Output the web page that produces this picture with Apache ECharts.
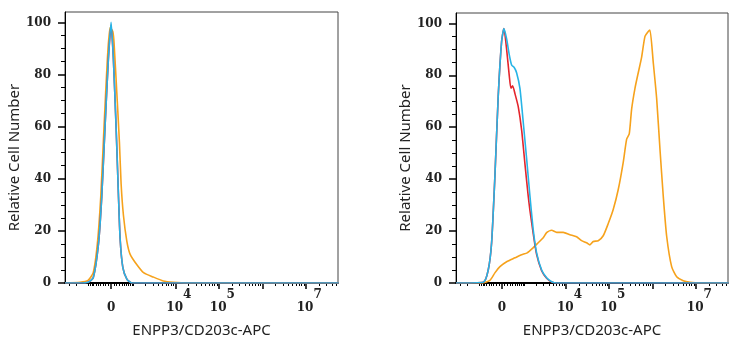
<!DOCTYPE html>
<html>
<head>
<meta charset="utf-8">
<script src="https://cdn.jsdelivr.net/npm/echarts@6/dist/echarts.min.js"></script>
</head>
<body style="margin: 0; background: #fff">
<div id="container" style="width: 738px; height: 350px;"></div>
<script type="text/javascript">
// histogram curves, x in display units (biexponential decades), y in % of max
var leftOrange = [[-1.06, 0], [-0.716, 0.3], [-0.53, 1], [-0.41, 4], [-0.316, 15], [-0.238, 33], [-0.162, 60],
    [-0.085, 86], [-0.023, 98], [0.039, 96.5], [0.069, 92], [0.132, 73], [0.192, 54], [0.231, 38], [0.284, 26],
    [0.363, 16], [0.439, 11], [0.594, 7], [0.746, 4], [0.97, 2.3], [1.2, 0.8], [1.43, 0.3], [1.755, 0], [5.24, 0]];
var leftRed = [[-1.06, 0], [-0.716, 0], [-0.53, 0.3], [-0.41, 2], [-0.29, 15], [-0.215, 33], [-0.139, 60],
    [-0.062, 86], [0, 99], [0.053, 86], [0.115, 60], [0.169, 34], [0.208, 17], [0.27, 6], [0.363, 1.5],
    [0.478, 0], [5.24, 0]];
var leftBlue = [[-1.06, 0], [-0.716, 0], [-0.53, 0.3], [-0.41, 2], [-0.29, 15], [-0.215, 33], [-0.139, 60],
    [-0.062, 86], [0, 100], [0.053, 86], [0.115, 60], [0.169, 34], [0.208, 17], [0.27, 6], [0.363, 1.5],
    [0.478, 0], [5.24, 0]];

var rightOrange = [[-1.06, 0], [-0.45, 0], [-0.277, 1], [-0.162, 3.9], [-0.046, 6.3], [0.109, 8.2], [0.3, 9.7],
    [0.455, 10.9], [0.584, 11.6], [0.723, 13.6], [0.838, 15.5], [0.954, 17.4], [1.032, 19.4], [1.148, 20.3],
    [1.263, 19.5], [1.416, 19.5], [1.57, 18.6], [1.725, 17.8], [1.84, 16.3], [1.956, 15.5], [2.032, 14.7],
    [2.109, 16], [2.224, 16.3], [2.339, 18.2], [2.455, 22.9], [2.57, 28.3], [2.686, 36], [2.801, 46.5],
    [2.88, 55.4], [2.94, 57.4], [2.995, 67], [3.072, 75], [3.148, 81], [3.226, 87], [3.303, 95], [3.379, 96.9],
    [3.418, 97.4], [3.494, 85], [3.573, 71], [3.649, 51.6], [3.725, 33.5], [3.804, 18], [3.919, 6.3],
    [4.035, 2.4], [4.187, 0.9], [4.342, 0.3], [4.57, 0], [5.24, 0]];
var rightRed = [[-1.06, 0], [-0.43, 0.3], [-0.316, 5], [-0.238, 15.5], [-0.162, 41], [-0.085, 72], [-0.007, 93],
    [0.046, 98], [0.109, 90], [0.169, 80], [0.208, 75], [0.247, 76], [0.3, 73], [0.376, 68], [0.455, 59],
    [0.531, 46], [0.607, 33.5], [0.647, 28], [0.723, 19], [0.801, 11], [0.917, 4.7], [1.032, 1.8],
    [1.148, 0.4], [1.263, 0], [5.24, 0]];
var rightBlue = [[-1.06, 0], [-0.43, 0.3], [-0.316, 5], [-0.238, 15.5], [-0.162, 41], [-0.085, 72], [-0.007, 93],
    [0.046, 98], [0.109, 94], [0.169, 88], [0.224, 84], [0.284, 83], [0.339, 81], [0.416, 75], [0.492, 62],
    [0.57, 48], [0.647, 33.5], [0.723, 20.5], [0.801, 11.6], [0.917, 5], [1.032, 2], [1.148, 0.5],
    [1.263, 0], [5.24, 0]];

// axis ticks (raw fluorescence values)
var majorTickRaw = [0, 1e4, 1e5, 1e6, 1e7];
var majorTickText = ['0', '10^4', '10^5', '', '10^7'];
var minorTickRaw = [-3000, -2000, -1000, -900, -800, -700, -600, -500, -400, -300, -200, -100,
    100, 200, 300, 400, 500, 600, 700, 800, 900, 1000, 2000, 3000, 4000, 5000, 6000, 7000, 8000, 9000,
    2e4, 3e4, 4e4, 5e4, 6e4, 7e4, 8e4, 9e4, 2e5, 3e5, 4e5, 5e5, 6e5, 7e5, 8e5, 9e5,
    2e6, 3e6, 4e6, 5e6, 6e6, 7e6, 8e6, 9e6, 2e7, 3e7, 4e7, 5e7];
var yMajor = [0, 20, 40, 60, 80, 100];
var yMinor = [5, 10, 15, 25, 30, 35, 45, 50, 55, 65, 70, 75, 85, 90, 95];

var xTitle = 'ENPP3/CD203c-APC';
var yTitle = 'Relative Cell Number';

var biexWidth = 665;
function biex(v) {
    return Math.asinh(v / biexWidth) / Math.LN10;
}
var majorU = majorTickRaw.map(biex);
var minorU = minorTickRaw.map(biex);
var xMin = -1.06, xMax = 5.22;

function tickLabel(val) {
    for (var i = 0; i < majorU.length; i++) {
        if (Math.abs(majorU[i] - val) < 1e-6) {
            var t = majorTickText[i];
            if (t === '') return '';
            if (t.indexOf('^') > 0) {
                var p = t.split('^');
                return '{m|' + p[0] + '}{s|' + p[1] + '}';
            }
            return '{z|' + t + '}';
        }
    }
    return '';
}

var serif = 'DejaVu Serif';
var sans = 'Noto Sans';

var grids = [
    {left: 65, top: 12, width: 273, height: 271},
    {left: 456, top: 13, width: 272, height: 270}
];

var xAxes = [], yAxes = [];
grids.forEach(function (g, i) {
    g.show = true;
    g.borderColor = '#444';
    g.borderWidth = 1;
    xAxes.push({
        type: 'value', gridIndex: i, min: xMin, max: xMax, position: 'bottom',
        name: xTitle, nameLocation: 'middle', nameGap: 40,
        nameTextStyle: {fontFamily: sans, fontSize: 15, color: '#222'},
        axisLine: {show: true, onZero: false, lineStyle: {color: '#000', width: 2}},
        axisTick: {show: true, customValues: majorU, length: 6, lineStyle: {color: '#000', width: 1.5}},
        axisLabel: {
            show: true, customValues: majorU, margin: 6, formatter: tickLabel,
            rich: {
                z: {fontFamily: serif, fontWeight: 'bold', fontSize: 12, color: '#222', padding: [13, 0, 0, 0]},
                m: {fontFamily: serif, fontWeight: 'bold', fontSize: 12, color: '#222', padding: [13, 0, 0, 7]},
                s: {fontFamily: serif, fontWeight: 'bold', fontSize: 12, color: '#222', padding: [0, 0, 13, 0]}
            }
        },
        splitLine: {show: false}
    });
    xAxes.push({
        type: 'value', gridIndex: i, min: xMin, max: xMax, position: 'bottom',
        axisLine: {show: false, onZero: false},
        axisTick: {show: true, customValues: minorU, length: 3, lineStyle: {color: '#000', width: 1}},
        axisLabel: {show: false},
        splitLine: {show: false}
    });
    yAxes.push({
        type: 'value', gridIndex: i, min: 0, max: 104, position: 'left',
        name: yTitle, nameLocation: 'middle', nameGap: 36,
        nameTextStyle: {fontFamily: sans, fontSize: 15, color: '#222', padding: [0, 20, 0, 0]},
        axisLine: {show: true, onZero: false, lineStyle: {color: '#000', width: 1}},
        axisTick: {show: true, customValues: yMajor, length: 7, lineStyle: {color: '#000', width: 1.5}},
        axisLabel: {show: true, customValues: yMajor, margin: 14,
            fontFamily: serif, fontWeight: 'bold', fontSize: 12, color: '#222'},
        splitLine: {show: false}
    });
    yAxes.push({
        type: 'value', gridIndex: i, min: 0, max: 104, position: 'left',
        axisLine: {show: false, onZero: false},
        axisTick: {show: true, customValues: yMinor, length: 4, lineStyle: {color: '#000', width: 1}},
        axisLabel: {show: false},
        splitLine: {show: false}
    });
});

function curve(data, panel, color) {
    return {
        type: 'line', data: data, xAxisIndex: panel * 2, yAxisIndex: panel * 2,
        showSymbol: false, symbol: 'none', smooth: 0.2, silent: true,
        lineStyle: {color: color, width: 1.6}
    };
}

var orange = '#f6a21c', red = '#e4252c', blue = '#27b4e6';

var myChart = echarts.init(document.getElementById('container'), null, {renderer: 'canvas'});
var option = {
    animation: false,
    backgroundColor: '#fff',
    grid: grids,
    xAxis: xAxes,
    yAxis: yAxes,
    series: [
        curve(leftOrange, 0, orange),
        curve(leftRed, 0, red),
        curve(leftBlue, 0, blue),
        curve(rightOrange, 1, orange),
        curve(rightRed, 1, red),
        curve(rightBlue, 1, blue)
    ]
};
myChart.setOption(option, true);
</script>
</body>
</html>
